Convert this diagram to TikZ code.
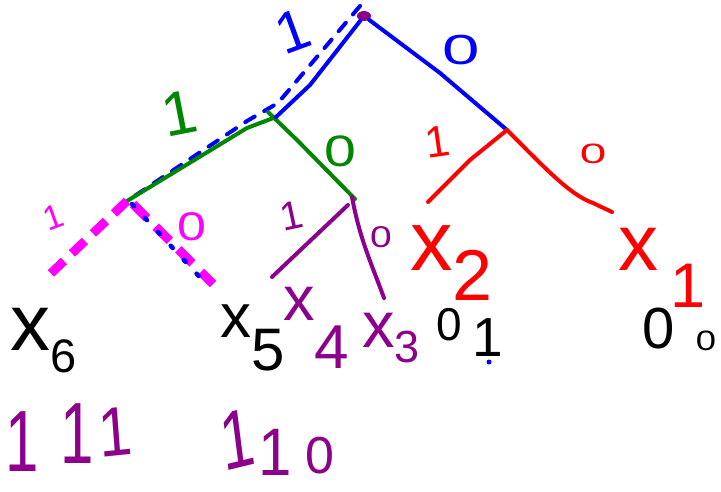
\documentclass[tikz,border=0pt]{standalone}
\usepackage{fontspec}
\usetikzlibrary{shapes.geometric}
\setmainfont{Liberation Sans}
\newcommand\hw[1]{\fontsize{#1}{#1}\selectfont}
\definecolor{hblue}{RGB}{0,0,255}
\definecolor{hred}{RGB}{255,0,0}
\definecolor{hgreen}{RGB}{0,135,0}
\definecolor{hpurple}{RGB}{140,0,140}
\definecolor{hmag}{RGB}{255,0,255}
\begin{document}
\begin{tikzpicture}[x=1pt,y=-1pt,
  stroke/.style={line width=4pt,line cap=round,line join=round},
  lab/.style={inner sep=0pt,outer sep=0pt},
  leaf/.style={inner sep=0pt,outer sep=0pt,anchor=base west}]
\useasboundingbox[fill=white] (0,0) rectangle (721,492);
% junctions
\coordinate (g) at (276,117);
\coordinate (r) at (507,130);
\coordinate (gl) at (127,201);
\coordinate (gr) at (355,199);
\coordinate (rl) at (428,202);
\coordinate (rr) at (612,212);
\coordinate (ml) at (45,279);
\coordinate (mr) at (213,284);
\coordinate (pl) at (272,277);
\coordinate (pr) at (384,298);
\coordinate (dtop) at (360,6);
\coordinate (dend) at (208,286);
% blue dashed path
\draw[stroke,hblue,dash pattern=on 11pt off 11pt] (dtop) -- (278,103) -- (247,121) -- (gl);
% green edges
\draw[stroke,hgreen] (gl) -- (247,128) -- (g);
\draw[stroke,hgreen] (268,112) -- (297,140) -- (gr);
% blue edges
\node[ellipse,fill=hpurple,minimum width=14pt,minimum height=10pt,inner sep=0pt] (root) at (364,16) {};
\draw[stroke,hblue] (root) -- (310,85) -- (g);
\draw[stroke,hblue] (root) -- (440,73) -- (r);
% red edges
\draw[stroke,hred] (r) -- (470,160) -- (rl);
\draw[stroke,hred] (r) .. controls (545,168) and (570,195) .. (593,203) -- (rr);
% magenta dashed edges
\draw[line width=9pt,hmag,dash pattern=on 18pt off 11pt] (gl) -- (ml);
\draw[line width=9pt,hmag,dash pattern=on 20pt off 12pt] (133,204) -- (mr);
\draw[line width=4.5pt,line cap=round,hblue,dash pattern=on 3pt off 16pt] (132,204) -- (dend);
% purple edges
\draw[stroke,hpurple] (348,205) -- (pl);
\draw[stroke,hpurple] (352,197) .. controls (360,240) and (372,265) .. (pr);
% edge labels
\node[lab,text=hblue,rotate=20] (b1) at (293,31) {\hw{58}1};
\node[lab,text=hblue,xscale=1.6] (b0) at (461,50) {\hw{42}0};
\node[lab,text=hgreen,rotate=11] (g1) at (179,113) {\hw{62}1};
\node[lab,text=hgreen,xscale=1.3] (g0) at (340,151) {\hw{44}0};
\node[lab,text=hred,rotate=8] (r1) at (438,142) {\hw{44}1};
\node[lab,text=hred,xscale=1.7] (r0) at (593,154) {\hw{28}0};
\node[lab,text=hmag,rotate=20] (m1) at (53,217) {\hw{34}1};
\node[lab,text=hmag,xscale=1.3] (m0) at (192,227) {\hw{40}0};
\node[lab,text=hpurple,rotate=12] (p1) at (292,216) {\hw{40}1};
\node[lab,text=hpurple,xscale=1.3] (p0) at (381,237) {\hw{30}0};
% leaves
\node[leaf,text=black] (x6) at (10,350) {\hw{80}x\raisebox{-22pt}{\hw{47}6}};
\node[leaf,text=black] (x5) at (220,337) {\hw{62}x\raisebox{-33pt}{\hw{60}5}};
\node[leaf,text=hpurple] (x4) at (283,320) {\hw{63}x\raisebox{-48pt}{\hw{62}4}};
\node[leaf,text=hpurple] (x3) at (362,347) {\hw{65}x\raisebox{-15pt}{\hw{45}3}};
\node[leaf,text=hred] (x2) at (410,270) {\hw{85}x\raisebox{-30pt}{\hw{72}2}};
\node[leaf,text=hred] (x1) at (618,270) {\hw{80}x\hspace{12pt}\raisebox{-37pt}{\hw{63}1}};
\node[lab,text=black] (v0) at (449,325) {\hw{46}0};
\node[lab,text=black] (v1) at (488,338) {\hw{55}1};
\node[circle,fill=hblue,inner sep=0pt,minimum size=5pt] (vdot) at (489,362) {};
\node[lab,text=black] (w0) at (659,329) {\hw{58}0};
\node[lab,text=black,xscale=1.3] (w1) at (706,341) {\hw{28}0};
% bottom rows
\node[lab,text=hpurple,yscale=1.45] (a1) at (22,442) {\hw{60}1};
\node[lab,text=hpurple,yscale=1.45] (a2) at (77,434) {\hw{60}1};
\node[lab,text=hpurple,yscale=1.16,rotate=5] (a3) at (115,432) {\hw{60}1};
\node[lab,text=hpurple,yscale=1.38,rotate=10] (c1) at (237,439) {\hw{60}1};
\node[lab,text=hpurple,yscale=1.12] (c2) at (275,452) {\hw{60}1};
\node[lab,text=hpurple] (c3) at (320,456) {\hw{52}0};
\end{tikzpicture}
\end{document}
